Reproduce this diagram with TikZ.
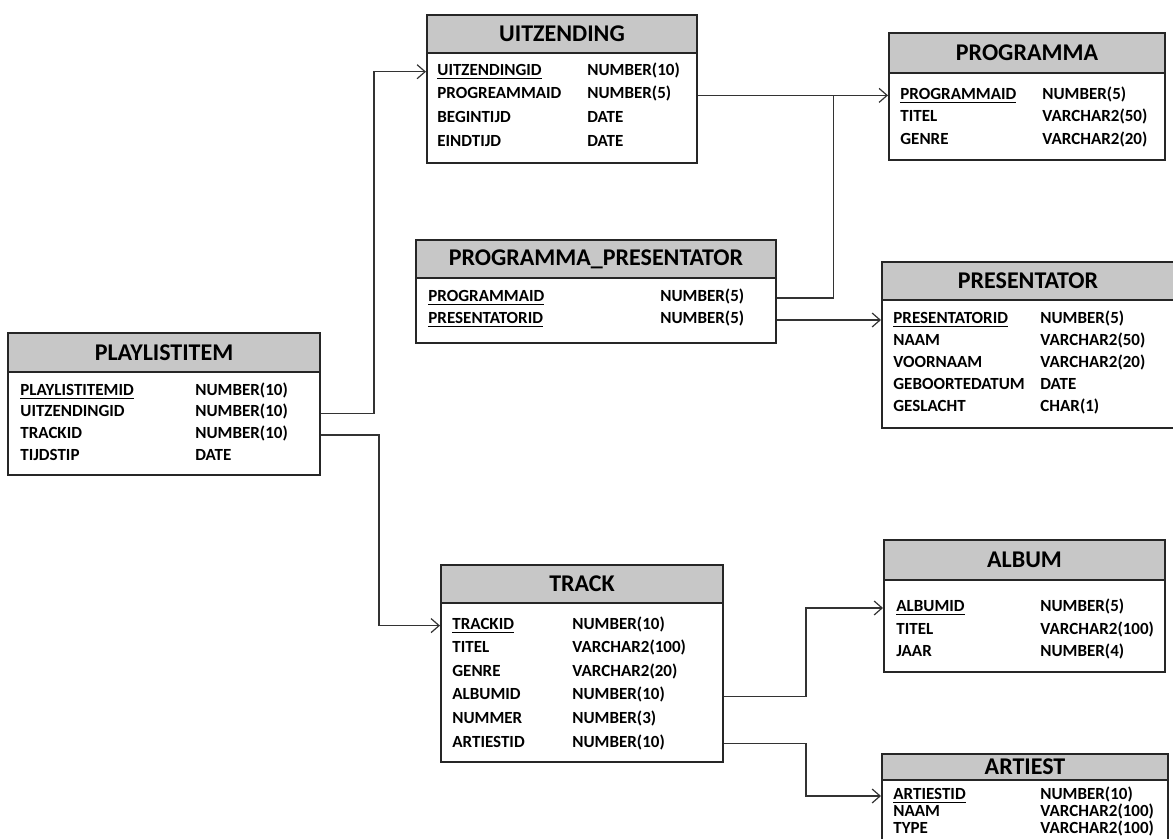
\documentclass[tikz,border=0pt]{standalone}
\usepackage{fontspec}
\setmainfont{Carlito}
\usetikzlibrary{arrows.meta,fit}
\tikzset{
  tbl/.style={draw=black!85,line width=1pt,inner sep=0pt},
  hdr/.style={draw=black!85,line width=1pt,fill=black!22,inner sep=0pt},
  ttl/.style={font=\fontsize{12}{14}\selectfont\bfseries},
  col/.style={anchor=west,inner sep=0pt,text height=6pt,text depth=2.5pt,font=\fontsize{8.5}{10}\selectfont\bfseries},
  fk/.style={draw=black!80,line width=0.6pt,-{Straight Barb[length=4pt,width=7pt]}},
}
\begin{document}
\begin{tikzpicture}[x=0.5pt,y=-0.5pt]
\useasboundingbox (0,0) rectangle (1173,839);
% PLAYLISTITEM
\node[tbl,fit={(8,333)(320,475)}](pli){};
\node[hdr,fit={(8,333)(320,372)}](pli-h){};
\node[ttl] at (pli-h){PLAYLISTITEM};
\foreach \a/\b [count=\i] in {\underline{PLAYLISTITEMID}/NUMBER(10),UITZENDINGID/NUMBER(10),TRACKID/NUMBER(10),TIJDSTIP/DATE}{
  \node[col](pli-r\i) at (20,370+21.7*\i){\a};
  \node[col](pli-t\i) at (195,370+21.7*\i){\b};}
% UITZENDING
\node[tbl,fit={(427,15)(697,163)}](uitz){};
\node[hdr,fit={(427,15)(697,53)}](uitz-h){};
\node[ttl] at (uitz-h){UITZENDING};
\foreach \a/\b [count=\i] in {\underline{UITZENDINGID}/NUMBER(10),PROGREAMMAID/NUMBER(5),BEGINTIJD/DATE,EINDTIJD/DATE}{
  \node[col](uitz-r\i) at (437,48+23.7*\i){\a};
  \node[col](uitz-t\i) at (587,48+23.7*\i){\b};}
% PROGRAMMA
\node[tbl,fit={(889,33)(1165,160)}](prog){};
\node[hdr,fit={(889,33)(1165,73)}](prog-h){};
\node[ttl] at (prog-h){PROGRAMMA};
\foreach \a/\b [count=\i] in {\underline{PROGRAMMAID}/NUMBER(5),TITEL/VARCHAR2(50),GENRE/VARCHAR2(20)}{
  \node[col](prog-r\i) at (900,73.5+22.5*\i){\a};
  \node[col](prog-t\i) at (1042,73.5+22.5*\i){\b};}
% PROGRAMMA_PRESENTATOR
\node[tbl,fit={(416,240)(776,343)}](pp){};
\node[hdr,fit={(416,240)(776,278)}](pp-h){};
\node[ttl] at (pp-h){PROGRAMMA\_PRESENTATOR};
\foreach \a/\b [count=\i] in {\underline{PROGRAMMAID}/NUMBER(5),\underline{PRESENTATORID}/NUMBER(5)}{
  \node[col](pp-r\i) at (428,276+22*\i){\a};
  \node[col](pp-t\i) at (660,276+22*\i){\b};}
% PRESENTATOR
\node[tbl,fit={(882,262)(1190,428)}](pres){};
\node[hdr,fit={(882,262)(1190,300)}](pres-h){};
\node[ttl] at (1028,281){PRESENTATOR};
\foreach \a/\b [count=\i] in {\underline{PRESENTATORID}/NUMBER(5),NAAM/VARCHAR2(50),VOORNAAM/VARCHAR2(20),GEBOORTEDATUM/DATE,GESLACHT/CHAR(1)}{
  \node[col](pres-r\i) at (893,298+22*\i){\a};
  \node[col](pres-t\i) at (1040,298+22*\i){\b};}
% TRACK
\node[tbl,fit={(441,565)(723,762)}](track){};
\node[hdr,fit={(441,565)(723,603)}](track-h){};
\node[ttl] at (track-h){TRACK};
\foreach \a/\b [count=\i] in {\underline{TRACKID}/NUMBER(10),TITEL/VARCHAR2(100),GENRE/VARCHAR2(20),ALBUMID/NUMBER(10),NUMMER/NUMBER(3),ARTIESTID/NUMBER(10)}{
  \node[col](track-r\i) at (452,602+23.6*\i){\a};
  \node[col](track-t\i) at (572,602+23.6*\i){\b};}
% ALBUM
\node[tbl,fit={(884,540)(1165,672)}](album){};
\node[hdr,fit={(884,540)(1165,580)}](album-h){};
\node[ttl] at (album-h){ALBUM};
\foreach \a/\b [count=\i] in {\underline{ALBUMID}/NUMBER(5),TITEL/VARCHAR2(100),JAAR/NUMBER(4)}{
  \node[col](album-r\i) at (896,585.5+22.5*\i){\a};
  \node[col](album-t\i) at (1040,585.5+22.5*\i){\b};}
% ARTIEST
\node[tbl,fit={(882,754)(1168,850)}](art){};
\node[hdr,fit={(882,754)(1168,780)}](art-h){};
\node[ttl] at (art-h){ARTIEST};
\foreach \a/\b [count=\i] in {\underline{ARTIESTID}/NUMBER(10),NAAM/VARCHAR2(100),TYPE/VARCHAR2(100)}{
  \node[col](art-r\i) at (893,779+17*\i){\a};
  \node[col](art-t\i) at (1040,779+17*\i){\b};}
% relaties
\draw[fk] (pli.east |- pli-r2) -- ++(53,0) |- (uitz.west |- uitz-r1);
\draw[fk] (pli.east |- pli-r3) -- ++(58,0) |- (track.west |- track-r1);
\draw[fk] (uitz.east |- uitz-r2) -- (prog.west |- uitz-r2) coordinate[pos=0.715](join);
\draw[draw=black!80,line width=0.6pt] (pp.east |- pp-r1) -| (join);
\draw[fk] (pp.east |- pp-r2) -- (pres.west |- pp-r2);
\draw[fk] (track.east |- track-r4) -- ++(82,0) |- (album.west |- album-r1);
\draw[fk] (track.east |- track-r6) -- ++(82,0) |- (art.west |- art-r1);
\end{tikzpicture}
\end{document}
